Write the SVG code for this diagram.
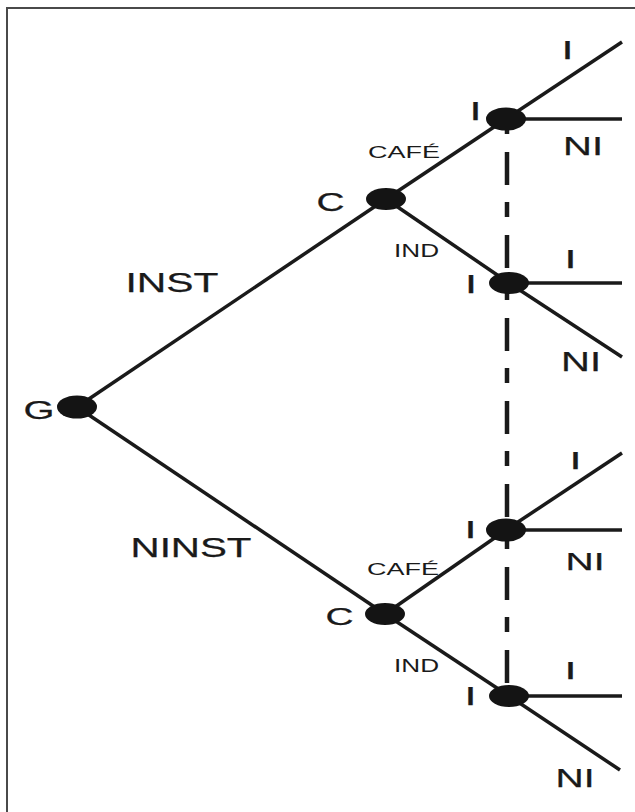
<svg xmlns="http://www.w3.org/2000/svg" width="635" height="812" viewBox="0 0 635 812">
<style>
.edge{stroke:#1a1a1a;stroke-width:3.5;fill:none;stroke-linecap:butt}
.dash{stroke:#1a1a1a;stroke-width:4.5;fill:none;stroke-dasharray:15 18 33 17}
.node{fill:#141414}
text{font-family:"Liberation Sans",Arial,sans-serif;fill:#1a1a1a;stroke:#1a1a1a;stroke-width:0.25;text-anchor:middle}
.big{font-size:25px}
.lab{font-size:28px}
.sm{font-size:17px;stroke-width:0}
.md{font-size:18px;stroke-width:0}
</style>
<rect x="0" y="0" width="635" height="812" fill="#ffffff"/>
<path d="M7,812 V8 H635" stroke="#4a4a4a" stroke-width="2" fill="none"/>
<g id="connectors">
<line class="dash" x1="507" y1="119" x2="507" y2="696"/>
<line class="edge" x1="77" y1="407" x2="386" y2="199"/>
<line class="edge" x1="77" y1="407" x2="385" y2="614"/>
<line class="edge" x1="386" y1="199" x2="506" y2="119"/>
<line class="edge" x1="386" y1="199" x2="509" y2="283"/>
<line class="edge" x1="385" y1="614" x2="506" y2="530"/>
<line class="edge" x1="385" y1="614" x2="509" y2="696"/>
<line class="edge" x1="506" y1="119" x2="622" y2="42"/>
<line class="edge" x1="506" y1="119" x2="622" y2="119"/>
<line class="edge" x1="509" y1="283" x2="622" y2="283"/>
<line class="edge" x1="509" y1="283" x2="622" y2="357"/>
<line class="edge" x1="506" y1="530" x2="622" y2="453"/>
<line class="edge" x1="506" y1="530" x2="622" y2="530"/>
<line class="edge" x1="509" y1="696" x2="622" y2="696"/>
<line class="edge" x1="509" y1="696" x2="620" y2="770"/>
</g>
<g id="edge-labels">
<text class="lab" x="172" y="292" textLength="93" lengthAdjust="spacingAndGlyphs">INST</text>
<text class="lab" x="191" y="557" textLength="121" lengthAdjust="spacingAndGlyphs">NINST</text>
<text class="sm" x="404" y="158" textLength="72" lengthAdjust="spacingAndGlyphs">CAFÉ</text>
<text class="md" x="416.5" y="257" textLength="45" lengthAdjust="spacingAndGlyphs">IND</text>
<text class="sm" x="403" y="575" textLength="72" lengthAdjust="spacingAndGlyphs">CAFÉ</text>
<text class="md" x="416.5" y="672" textLength="45" lengthAdjust="spacingAndGlyphs">IND</text>
<text class="big" x="567.5" y="59" textLength="12" lengthAdjust="spacingAndGlyphs">I</text>
<text class="big" x="583" y="155" textLength="40" lengthAdjust="spacingAndGlyphs">NI</text>
<text class="big" x="570.5" y="268" textLength="12" lengthAdjust="spacingAndGlyphs">I</text>
<text class="big" x="581" y="371" textLength="40" lengthAdjust="spacingAndGlyphs" style="font-size:27px">NI</text>
<text class="big" x="575.5" y="469" textLength="12" lengthAdjust="spacingAndGlyphs" style="font-size:24px">I</text>
<text class="big" x="585" y="570" textLength="39" lengthAdjust="spacingAndGlyphs" style="font-size:24px">NI</text>
<text class="big" x="570.5" y="679" textLength="12" lengthAdjust="spacingAndGlyphs" style="font-size:24px">I</text>
<text class="big" x="575" y="787" textLength="39" lengthAdjust="spacingAndGlyphs" style="font-size:26px">NI</text>
</g>
<g id="node-G">
<ellipse class="node" cx="77" cy="407" rx="20" ry="11.5"/>
<text class="big" x="39" y="419" textLength="31" lengthAdjust="spacingAndGlyphs" style="font-size:26px">G</text>
</g>
<g id="node-C1">
<ellipse class="node" cx="386" cy="199" rx="20" ry="11"/>
<text class="big" x="330.5" y="211" textLength="28" lengthAdjust="spacingAndGlyphs">C</text>
</g>
<g id="node-C2">
<ellipse class="node" cx="385" cy="614" rx="20" ry="11"/>
<text class="big" x="339.5" y="625" textLength="28" lengthAdjust="spacingAndGlyphs" style="font-size:24px">C</text>
</g>
<g id="node-I1">
<ellipse class="node" cx="506" cy="119" rx="20" ry="11.5"/>
<text class="big" x="475.5" y="120" textLength="12" lengthAdjust="spacingAndGlyphs">I</text>
</g>
<g id="node-I2">
<ellipse class="node" cx="509" cy="283" rx="20" ry="11"/>
<text class="big" x="471" y="293" textLength="12" lengthAdjust="spacingAndGlyphs">I</text>
</g>
<g id="node-I3">
<ellipse class="node" cx="506" cy="530" rx="20" ry="11.5"/>
<text class="big" x="470.5" y="538" textLength="12" lengthAdjust="spacingAndGlyphs" style="font-size:24px">I</text>
</g>
<g id="node-I4">
<ellipse class="node" cx="509" cy="696" rx="20" ry="11"/>
<text class="big" x="470.5" y="705" textLength="12" lengthAdjust="spacingAndGlyphs">I</text>
</g>
</svg>
